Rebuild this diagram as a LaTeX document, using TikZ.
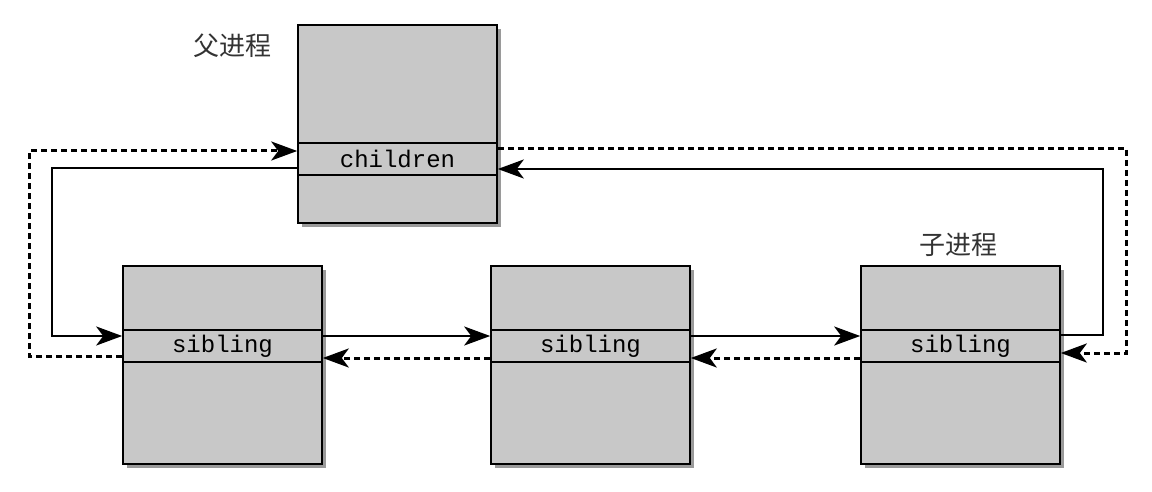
\documentclass[tikz,border=0pt]{standalone}
\usepackage{fontspec}
\setmonofont{Liberation Mono}
\newfontfamily\cjk{Noto Sans CJK SC}
\usetikzlibrary{arrows.meta,shadows,calc}
\definecolor{boxgray}{HTML}{C8C8C8}
\definecolor{shadowgray}{HTML}{9A9A9A}
\begin{document}
\begin{tikzpicture}[x=1pt,y=-1pt,
  procbox/.style={draw, line width=2pt, fill=boxgray, minimum width=199pt, minimum height=198pt, inner sep=0pt,
    drop shadow={shadow xshift=4pt, shadow yshift=-4pt, fill=shadowgray, opacity=1}},
  field/.style={draw, line width=1.6pt, minimum width=199pt, minimum height=32pt, inner sep=0pt,
    font=\ttfamily\fontsize{24}{24}\selectfont},
  tip/.style={-{Stealth[length=26pt,width=19pt,inset=7pt]}},
  conn/.style={line width=2.5pt, tip},
  back/.style={line width=3pt, dash pattern=on 6pt off 4pt, tip},
  lbl/.style={font=\cjk\fontsize{26}{26}\selectfont, text=black!80}
]
\useasboundingbox[fill=white] (0,0) rectangle (1152,492);

% boxes
\node[procbox] (P)  at (397.5,124) {};
\node[procbox] (B1) at (222.5,365) {};
\node[procbox] (B2) at (590.5,365) {};
\node[procbox] (B3) at (960.5,365) {};

\node[field] (PC) at (397.5,159) {children};
\node[field] (S1) at (222.5,346) {sibling};
\node[field] (S2) at (590.5,346) {sibling};
\node[field] (S3) at (960.5,346) {sibling};

\node[lbl] (LP) at (232,46) {父进程};
\node[lbl] (LC) at (958,245) {子进程};

% parent -> first child
\draw[conn] ($(PC.west)+(0,9)$) -- ++(-245,0) |- ($(S1.west)+(0,-10)$);
% first child -> parent (dashed)
\draw[back] ($(S1.west)+(0,10)$) -- ++(-93,0) |- ($(PC.west)+(0,-8)$);
% last child -> parent
\draw[conn] ($(S3.east)+(0,-11)$) -- ++(42,0) |- ($(PC.east)+(0,10)$);
% parent -> last child (dashed)
\draw[back] ($(PC.east)+(0,-10)$) -- ++(629,0) |- ($(S3.east)+(0,7)$);

% siblings
\draw[conn] ($(S1.east)+(0,-10)$) -- ($(S2.west)+(0,-10)$);
\draw[back] ($(S2.west)+(0,12)$) -- ($(S1.east)+(0,12)$);
\draw[conn] ($(S2.east)+(0,-10)$) -- ($(S3.west)+(0,-10)$);
\draw[back] ($(S3.west)+(0,12)$) -- ($(S2.east)+(0,12)$);
\end{tikzpicture}
\end{document}
